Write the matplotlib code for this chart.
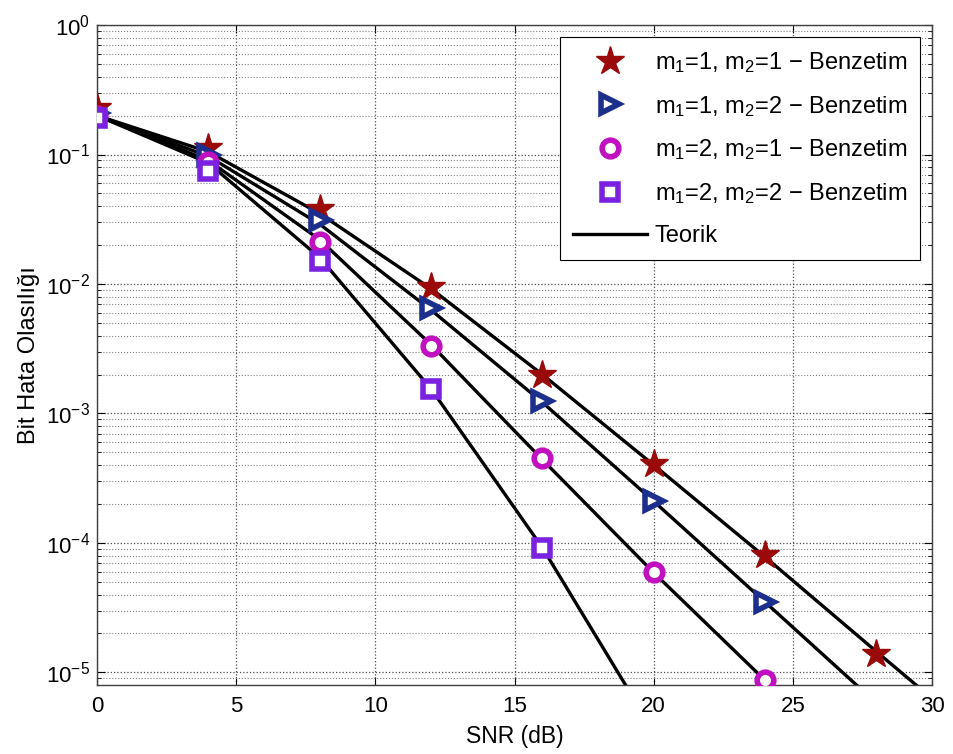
import numpy as np
import matplotlib
matplotlib.use('Agg')
import matplotlib.pyplot as plt
from matplotlib.ticker import LogLocator, NullFormatter, MultipleLocator

plt.rcParams['font.family'] = ['Liberation Sans', 'DejaVu Sans']
plt.rcParams['mathtext.fontset'] = 'custom'
plt.rcParams['mathtext.rm'] = 'Liberation Sans'
plt.rcParams['mathtext.it'] = 'Liberation Sans'

# simulation points
snr = [0, 4, 8, 12, 16, 20, 24, 28]
ber_11 = [0.229, 0.112, 0.038, 0.0095, 0.0020, 4.1e-4, 8.1e-5, 1.4e-5]
ber_12 = [0.21, 0.10, 0.031, 0.0065, 0.00124, 2.1e-4, 3.5e-5]
ber_21 = [0.20, 0.087, 0.021, 0.0033, 4.5e-4, 6.0e-5, 8.7e-6]
ber_22 = [0.19, 0.074, 0.015, 0.00155, 9.2e-5]

# theoretical curves
th_x1 = [0, 4, 8, 12, 16, 20, 24, 28, 30]
th_11 = [0.2, 0.105, 0.035, 0.0092, 0.0020, 4.0e-4, 7.8e-5, 1.45e-5, 6.3e-6]
th_x2 = [0, 4, 8, 12, 16, 20, 24, 28]
th_12 = [0.2, 0.097, 0.029, 0.0063, 0.00122, 2.1e-4, 3.5e-5, 5.8e-6]
th_x3 = [0, 4, 8, 12, 16, 20, 24, 26]
th_21 = [0.2, 0.09, 0.022, 0.0034, 4.4e-4, 5.9e-5, 8.7e-6, 3.3e-6]
th_x4 = [0, 4, 8, 12, 16, 20]
th_22 = [0.2, 0.086, 0.016, 0.00155, 9.2e-5, 3.5e-6]

fig = plt.figure(figsize=(9.54, 7.54), dpi=100)
ax = fig.add_axes([0.1017, 0.0915, 0.8753, 0.8753])

ax.semilogy(th_x1, th_11, 'k-', lw=2.4, zorder=2)
ax.semilogy(th_x2, th_12, 'k-', lw=2.4, zorder=2)
ax.semilogy(th_x3, th_21, 'k-', lw=2.4, zorder=2)
ax.semilogy(th_x4, th_22, 'k-', lw=2.4, zorder=2)

h1, = ax.semilogy(snr, ber_11, '*', color='#9a0a0a', ms=21, ls='none', zorder=3)
h2, = ax.semilogy(snr[:7], ber_12, '>', color='#1c2f8c', mfc='white', mec='#1c2f8c',
                  ms=13, mew=4, ls='none', zorder=3)
h3, = ax.semilogy(snr[:7], ber_21, 'o', color='#c010c0', mfc='white', mec='#c010c0',
                  ms=12, mew=4, ls='none', zorder=3)
h4, = ax.semilogy(snr[:5], ber_22, 's', color='#7a22e0', mfc='white', mec='#7a22e0',
                  ms=12, mew=4, ls='none', zorder=3)
h5, = ax.plot([], [], 'k-', lw=2.4)

ax.set_xlim(0, 30)
ax.set_ylim(8e-6, 1)
ax.xaxis.set_major_locator(MultipleLocator(5))
ax.yaxis.set_major_locator(LogLocator(base=10, numticks=10))
ax.yaxis.set_minor_locator(LogLocator(base=10, subs=np.arange(2, 10), numticks=10))
ax.yaxis.set_minor_formatter(NullFormatter())

ax.grid(True, which='major', ls=':', color='0.3', lw=0.9)
ax.grid(True, which='minor', axis='y', ls=':', color='0.5', lw=0.8)
ax.tick_params(which='both', direction='in', top=True, right=True)
ax.tick_params(which='major', length=6, labelsize=16, pad=5)
ax.tick_params(axis='x', which='major', pad=8)
ax.tick_params(which='minor', length=3)
for s in ax.spines.values():
    s.set_linewidth(1.0)
    s.set_color('0.25')

ax.set_xlabel('SNR (dB)', fontsize=16.5, labelpad=6)
ax.set_ylabel('Bit Hata Olasılığı', fontsize=17, labelpad=4)

labels = ['m$_1$=1, m$_2$=1 − Benzetim',
          'm$_1$=1, m$_2$=2 − Benzetim',
          'm$_1$=2, m$_2$=1 − Benzetim',
          'm$_1$=2, m$_2$=2 − Benzetim',
          'Teorik']
leg = ax.legend([h1, h2, h3, h4, h5], labels, loc='upper right', fontsize=17,
                fancybox=False, edgecolor='k', framealpha=1, handlelength=3.1,
                handletextpad=0.35, borderaxespad=0.5, labelspacing=0.8,
                borderpad=0.55)
leg.get_frame().set_linewidth(0.8)

fig.savefig('out.png', dpi=100)
